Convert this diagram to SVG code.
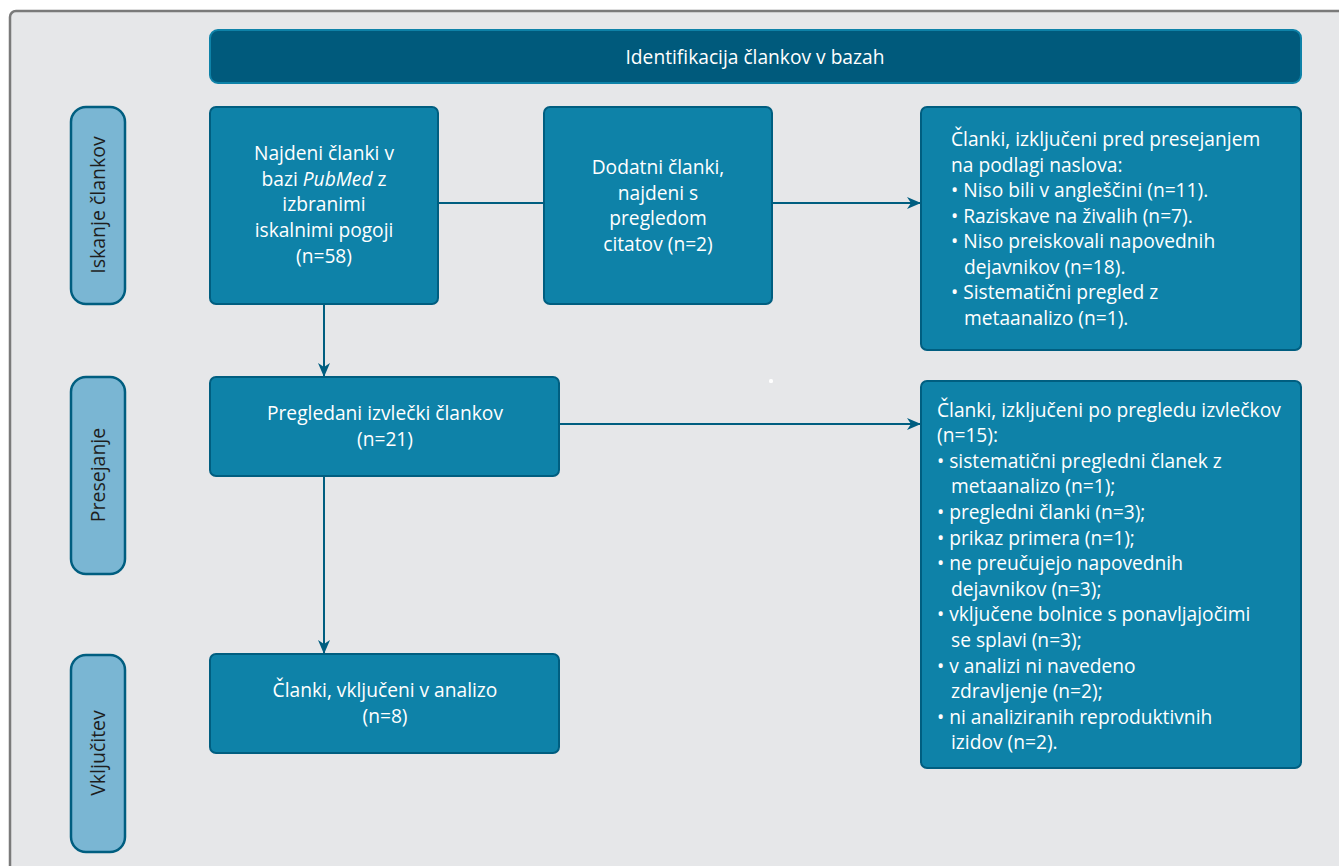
<svg xmlns="http://www.w3.org/2000/svg" width="1339" height="866" viewBox="0 0 1339 866">
<defs>
<style>
.frame{fill:#e6e7e9;stroke:#7a7a7a;stroke-width:2.5}
.hdr{fill:#005a7c;stroke:#0e82a8;stroke-width:2}
.node{fill:#0e82a8;stroke:#005e80;stroke-width:2}
.lane{fill:#7ab6d3;stroke:#005e80;stroke-width:2.5}
.t{font-family:"Open Sans","Noto Sans","Liberation Sans",sans-serif;font-size:19.2px;fill:#ffffff}
.c{text-anchor:middle}
.lt{font-family:"Open Sans","Noto Sans","Liberation Sans",sans-serif;font-size:19.5px;fill:#1e1e1e;text-anchor:middle}
.edge{fill:none;stroke:#005e80;stroke-width:2}
</style>
<marker id="arr" viewBox="0 0 14 12" refX="13" refY="6" markerWidth="14" markerHeight="12" markerUnits="userSpaceOnUse" orient="auto">
<path d="M0,0 L14,6 L0,12 L4,6 Z" fill="#005e80"/>
</marker>
</defs>
<rect class="frame" x="10" y="11" width="1350" height="880" rx="6"/>
<rect x="769" y="379" width="4" height="4" rx="1.5" fill="#ffffff"/>

<g id="connectors">
<path class="edge" d="M438,203 L920,203" marker-end="url(#arr)"/>
<path class="edge" d="M324,304 L324,376" marker-end="url(#arr)"/>
<path class="edge" d="M559,424 L920,424" marker-end="url(#arr)"/>
<path class="edge" d="M324,476 L324,653" marker-end="url(#arr)"/>
</g>

<g id="header">
<rect class="hdr" x="210" y="30" width="1091" height="53" rx="8"/>
<text class="t c" x="755" y="63.5">Identifikacija člankov v bazah</text>
</g>

<g id="lane-iskanje">
<rect class="lane" x="71" y="107" width="54" height="197" rx="15"/>
<text class="lt" transform="translate(105,205) rotate(-90)">Iskanje člankov</text>
</g>
<g id="lane-presejanje">
<rect class="lane" x="71" y="377" width="54" height="197" rx="15"/>
<text class="lt" transform="translate(105,475) rotate(-90)">Presejanje</text>
</g>
<g id="lane-vkljucitev">
<rect class="lane" x="71" y="655" width="54" height="197" rx="15"/>
<text class="lt" transform="translate(105,753) rotate(-90)">Vključitev</text>
</g>

<g id="node-pubmed">
<rect class="node" x="210" y="107" width="228" height="197" rx="6"/>
<text class="t c" x="324" y="159.5">Najdeni članki v</text>
<text class="t c" x="324" y="185.5">bazi <tspan font-style="italic">PubMed</tspan> z</text>
<text class="t c" x="324" y="210.5">izbranimi</text>
<text class="t c" x="324" y="236.5">iskalnimi pogoji</text>
<text class="t c" x="324" y="262.5">(n=58)</text>
</g>

<g id="node-dodatni">
<rect class="node" x="544" y="107" width="228" height="197" rx="6"/>
<text class="t c" x="658" y="173.5">Dodatni članki,</text>
<text class="t c" x="658" y="199.5">najdeni s</text>
<text class="t c" x="658" y="224.5">pregledom</text>
<text class="t c" x="658" y="250.5">citatov (n=2)</text>
</g>

<g id="node-izkljuceni-pred">
<rect class="node" x="921" y="107" width="380" height="243" rx="6"/>
<text class="t" x="951" y="146">Članki, izključeni pred presejanjem</text>
<text class="t" x="951" y="171.5">na podlagi naslova:</text>
<text class="t" x="951" y="197">• Niso bili v angleščini (n=11).</text>
<text class="t" x="951" y="222.5">• Raziskave na živalih (n=7).</text>
<text class="t" x="951" y="248">• Niso preiskovali napovednih</text>
<text class="t" x="964" y="273.5">dejavnikov (n=18).</text>
<text class="t" x="951" y="299">• Sistematični pregled z</text>
<text class="t" x="964" y="324.5">metaanalizo (n=1).</text>
</g>

<g id="node-pregledani">
<rect class="node" x="210" y="377" width="349" height="99" rx="6"/>
<text class="t c" x="385" y="419.5">Pregledani izvlečki člankov</text>
<text class="t c" x="385" y="445.5">(n=21)</text>
</g>

<g id="node-izkljuceni-po">
<rect class="node" x="921" y="381" width="380" height="387" rx="6"/>
<text class="t" x="937" y="416.5">Članki, izključeni po pregledu izvlečkov</text>
<text class="t" x="937" y="442.1">(n=15):</text>
<text class="t" x="937" y="467.7">• sistematični pregledni članek z</text>
<text class="t" x="951" y="493.3">metaanalizo (n=1);</text>
<text class="t" x="937" y="518.9">• pregledni članki (n=3);</text>
<text class="t" x="937" y="544.5">• prikaz primera (n=1);</text>
<text class="t" x="937" y="570.1">• ne preučujejo napovednih</text>
<text class="t" x="951" y="595.7">dejavnikov (n=3);</text>
<text class="t" x="937" y="621.3">• vključene bolnice s ponavljajočimi</text>
<text class="t" x="951" y="646.9">se splavi (n=3);</text>
<text class="t" x="937" y="672.5">• v analizi ni navedeno</text>
<text class="t" x="951" y="698.1">zdravljenje (n=2);</text>
<text class="t" x="937" y="723.7">• ni analiziranih reproduktivnih</text>
<text class="t" x="951" y="749.3">izidov (n=2).</text>
</g>

<g id="node-vkljuceni">
<rect class="node" x="210" y="654" width="349" height="99" rx="6"/>
<text class="t c" x="385" y="696.5">Članki, vključeni v analizo</text>
<text class="t c" x="385" y="722.5">(n=8)</text>
</g>
</svg>
